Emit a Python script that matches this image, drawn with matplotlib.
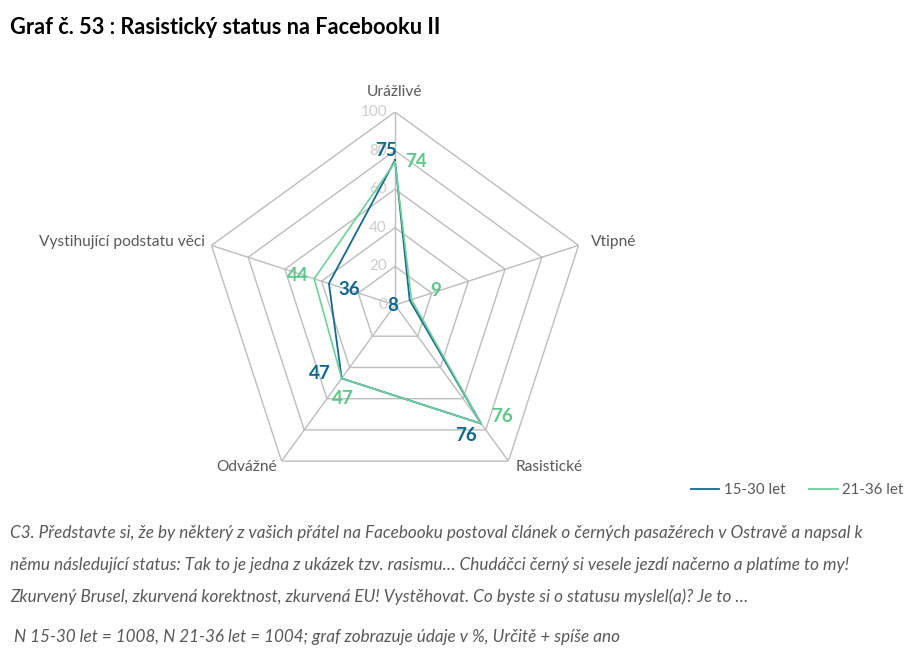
import numpy as np
import matplotlib
matplotlib.use("Agg")
import matplotlib.pyplot as plt
from matplotlib.lines import Line2D

categories = ["Urážlivé", "Vtipné", "Rasistické", "Odvážné", "Vystihující podstatu věci"]
series_names = ["15-30 let", "21-36 let"]
values_1530 = [75, 8, 76, 47, 36]
values_2136 = [74, 9, 76, 47, 44]
ticks = [0, 20, 40, 60, 80, 100]

title = "Graf č. 53 : Rasistický status na Facebooku II"
note_lines = [
    "C3. Představte si, že by některý z vašich přátel na Facebooku postoval článek o černých pasažérech v Ostravě a napsal k",
    "němu následující status: Tak to je jedna z ukázek tzv. rasismu… Chudáčci černý si vesele jezdí načerno a platíme to my!",
    "Zkurvený Brusel, zkurvená korektnost, zkurvená EU! Vystěhovat. Co byste si o statusu myslel(a)? Je to …",
]
footer = " N 15-30 let = 1008, N 21-36 let = 1004; graf zobrazuje údaje v %, Určitě + spíše ano"

BLUE = "#17698f"
GREEN = "#6fd19a"
BLUE_TXT = "#0f6890"
GREEN_TXT = "#5cc98a"
GRID = "#bdbdbd"
TXT = "#595959"

plt.rcParams['font.family'] = ['Lato', 'DejaVu Sans']

W, H = 920, 661
fig = plt.figure(figsize=(W / 100, H / 100), dpi=100)
cx, cy, R = 395, 305, 193
ax = fig.add_axes([(cx - R) / W, (H - cy - R) / H, 2 * R / W, 2 * R / H], projection='polar')
ax.set_theta_offset(np.pi / 2)
ax.set_theta_direction(-1)
ax.set_ylim(0, 100)
ax.grid(False)
ax.set_xticks([])
ax.set_yticks([])
ax.spines['polar'].set_visible(False)
ax.patch.set_alpha(0)

n = len(categories)
theta = np.arange(n) * 2 * np.pi / n
theta_c = np.append(theta, theta[0])

for t in ticks[1:]:
    ax.plot(theta_c, [t] * (n + 1), color=GRID, lw=1.0, zorder=1)
for th in theta:
    ax.plot([th, th], [0, ticks[-1]], color=GRID, lw=1.0, zorder=1)

for t in ticks:
    ax.annotate(str(t), (0, t), xytext=(-8, 0), textcoords='offset pixels',
                ha='right', va='center', fontsize=11, color="#cccccc", zorder=2)

ax.plot(theta_c, values_1530 + values_1530[:1], color=BLUE, lw=1.3, zorder=3)
ax.plot(theta_c, values_2136 + values_2136[:1], color=GREEN, lw=1.2, zorder=4)

off_1530 = [(-9, 10), (-17, -5), (-15, -12), (-22, 5), (20, -6)]
off_2136 = [(21, 1), (24, 9), (21, 7), (1, -20), (-16, 3)]
for i in range(n):
    ax.annotate(str(values_1530[i]), (theta[i], values_1530[i]), xytext=off_1530[i],
                textcoords='offset pixels', ha='center', va='center', fontsize=13.5,
                fontweight='bold', color=BLUE_TXT, zorder=5)
    ax.annotate(str(values_2136[i]), (theta[i], values_2136[i]), xytext=off_2136[i],
                textcoords='offset pixels', ha='center', va='center', fontsize=13.5,
                fontweight='bold', color=GREEN_TXT, zorder=5)

cat_off = [((0, 20), 'center'), ((12, 3), 'left'), ((7, -6), 'left'),
           ((-5, -6), 'right'), ((-6, 3), 'right')]
for i, c in enumerate(categories):
    (dx, dy), ha = cat_off[i]
    ax.annotate(c, (theta[i], 100), xytext=(dx, dy), textcoords='offset pixels',
                ha=ha, va='center', fontsize=11.2, color=TXT)

handles = [Line2D([], [], color=BLUE, lw=1.3), Line2D([], [], color=GREEN, lw=1.3)]
fig.legend(handles, series_names, loc='center', bbox_to_anchor=(797 / W, 1 - 490 / H),
           ncol=2, frameon=False, fontsize=10.8, labelcolor=TXT, handlelength=1.9,
           handletextpad=0.3, columnspacing=1.6)

fig.text(10 / W, 1 - 27 / H, title, fontsize=15.7, fontweight='bold', color='black',
         ha='left', va='center')
for k, line in enumerate(note_lines):
    fig.text(10 / W, 1 - (533 + 32 * k) / H, line, fontsize=12.35, style='italic',
             color=TXT, ha='left', va='center')
fig.text(10 / W, 1 - 637 / H, footer, fontsize=12.35, style='italic', color=TXT,
         ha='left', va='center')

fig.savefig("out.png", dpi=100)
